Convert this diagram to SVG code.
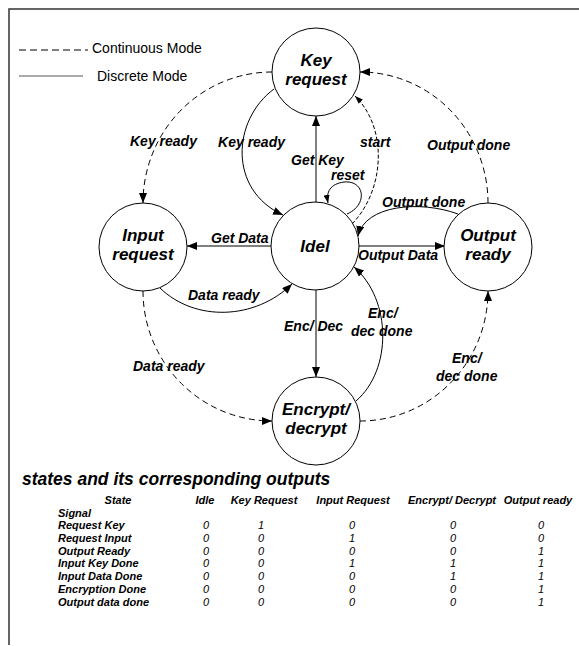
<svg xmlns="http://www.w3.org/2000/svg" width="579" height="646" viewBox="0 0 579 646">
  <style>
    .frame { stroke: #333; stroke-width: 1.5; fill: none; }
    .node circle { fill: #fff; stroke: #000; stroke-width: 1; }
    .node text { font-family: "Liberation Sans", Arial, sans-serif; font-size: 17px; font-weight: bold; font-style: italic; text-anchor: middle; fill: #000; }
    .edge { fill: none; stroke: #000; stroke-width: 1; }
    .cont { stroke-dasharray: 6 4; }
    .fine { stroke-dasharray: 4 2; }
    .lbl { font-family: "Liberation Sans", Arial, sans-serif; font-size: 14px; font-weight: bold; font-style: italic; fill: #000; }
    .legend { font-family: "Liberation Sans", Arial, sans-serif; font-size: 14px; fill: #000; }
    .title { font-family: "Liberation Sans", Arial, sans-serif; font-size: 17.5px; font-weight: bold; font-style: italic; fill: #000; }
    .th { font-family: "Liberation Sans", Arial, sans-serif; font-size: 11px; font-weight: bold; font-style: italic; fill: #000; }
    .td { font-family: "Liberation Sans", Arial, sans-serif; font-size: 11px; font-style: italic; fill: #000; text-anchor: middle; }
  </style>
  <defs>
    <marker id="arrow" markerWidth="10" markerHeight="8" refX="10" refY="4" orient="auto" markerUnits="userSpaceOnUse">
      <path d="M0,0 L10,4 L0,8 z" fill="#000"/>
    </marker>
    <marker id="arrowSmall" markerWidth="8" markerHeight="6" refX="8" refY="3" orient="auto" markerUnits="userSpaceOnUse">
      <path d="M0,0 L8,3 L0,6 z" fill="#000"/>
    </marker>
  </defs>

  <!-- frame -->
  <path class="frame" d="M9,645 L9,9 L579,9"/>

  <!-- legend -->
  <g id="legend">
    <line x1="19" y1="50" x2="88" y2="50" stroke="#000" stroke-width="1" stroke-dasharray="7 4"/>
    <text class="legend" x="92" y="53">Continuous Mode</text>
    <line x1="19" y1="76" x2="83" y2="76" stroke="#555" stroke-width="1.2"/>
    <text class="legend" x="97" y="81">Discrete Mode</text>
  </g>

  <!-- connectors -->
  <g id="connectors">
    <!-- continuous mode ring -->
    <path class="edge cont" d="M272,72 A129,131 0 0 0 143,203" marker-end="url(#arrow)"/>
    <path class="edge cont" d="M143,291 A129,130 0 0 0 272,421" marker-end="url(#arrow)"/>
    <path class="edge cont" d="M360,421 A128,130 0 0 0 488,291" marker-end="url(#arrow)"/>
    <path class="edge cont" d="M488,203 A128,131 0 0 0 360,72" marker-end="url(#arrow)"/>
    <!-- start -->
    <path class="edge fine" d="M352,224 C385,190 388,128 355,96" marker-end="url(#arrowSmall)"/>
    <!-- discrete mode -->
    <path class="edge" d="M274,89 C232,120 228,190 283,215" marker-end="url(#arrow)"/>
    <path class="edge" d="M316,202 L316,116" marker-end="url(#arrow)"/>
    <path class="edge" d="M347,214 C368,205 365,180 344,182 C330,184 326,192 328,203" marker-end="url(#arrowSmall)"/>
    <path class="edge" d="M458,214 C420,200 365,205 358,236" marker-end="url(#arrow)"/>
    <path class="edge" d="M359,246 L445,246" marker-end="url(#arrow)"/>
    <path class="edge" d="M271,246 L187,246" marker-end="url(#arrow)"/>
    <path class="edge" d="M160,288 C195,322 255,320 292,284" marker-end="url(#arrow)"/>
    <path class="edge" d="M316,290 L316,377" marker-end="url(#arrow)"/>
    <path class="edge" d="M356,401 C392,370 392,300 354,267" marker-end="url(#arrow)"/>
  </g>

  <!-- connector labels -->
  <g id="labels">
    <text class="lbl" x="130" y="146">Key ready</text>
    <text class="lbl" x="285" y="147" text-anchor="end">Key ready</text>
    <text class="lbl" x="291" y="165">Get Key</text>
    <text class="lbl" x="360" y="147">start</text>
    <text class="lbl" x="331" y="180">reset</text>
    <text class="lbl" x="427" y="150">Output done</text>
    <text class="lbl" x="382" y="207">Output done</text>
    <text class="lbl" x="211" y="243">Get Data</text>
    <text class="lbl" x="358" y="260">Output Data</text>
    <text class="lbl" x="188" y="300">Data ready</text>
    <text class="lbl" x="284" y="331">Enc/ Dec</text>
    <text class="lbl" x="368" y="318">Enc/</text>
    <text class="lbl" x="351" y="336">dec done</text>
    <text class="lbl" x="133" y="371">Data ready</text>
    <text class="lbl" x="452" y="363">Enc/</text>
    <text class="lbl" x="436" y="381">dec done</text>
  </g>

  <!-- states -->
  <g id="key-request" class="node">
    <circle cx="316" cy="72" r="44"/>
    <text x="316" y="66">Key</text>
    <text x="316" y="85">request</text>
  </g>
  <g id="idel" class="node">
    <circle cx="315" cy="246" r="44"/>
    <text x="315" y="252">Idel</text>
  </g>
  <g id="input-request" class="node">
    <circle cx="143" cy="247" r="44"/>
    <text x="143" y="241">Input</text>
    <text x="143" y="260">request</text>
  </g>
  <g id="output-ready" class="node">
    <circle cx="488" cy="247" r="44"/>
    <text x="488" y="241">Output</text>
    <text x="488" y="260">ready</text>
  </g>
  <g id="encrypt-decrypt" class="node">
    <circle cx="316" cy="421" r="44"/>
    <text x="316" y="415">Encrypt/</text>
    <text x="316" y="434">decrypt</text>
  </g>

  <!-- output table -->
  <g id="output-table">
    <text class="title" x="22" y="485">states and its corresponding outputs</text>
    <g class="th" text-anchor="middle">
      <text x="118" y="504">State</text>
      <text x="205" y="504">Idle</text>
      <text x="264" y="504">Key Request</text>
      <text x="353" y="504">Input Request</text>
      <text x="452" y="504">Encrypt/ Decrypt</text>
      <text x="538" y="504">Output ready</text>
    </g>
    <g class="th">
      <text x="58" y="516.5">Signal</text>
      <text x="58" y="529">Request Key</text>
      <text x="58" y="542">Request Input</text>
      <text x="58" y="554.5">Output Ready</text>
      <text x="58" y="567">Input Key Done</text>
      <text x="58" y="580">Input Data Done</text>
      <text x="58" y="593">Encryption Done</text>
      <text x="58" y="605.5">Output data done</text>
    </g>
    <g class="td">
      <text x="206" y="529">0</text><text x="261" y="529">1</text><text x="352" y="529">0</text><text x="453" y="529">0</text><text x="541" y="529">0</text>
      <text x="206" y="542">0</text><text x="261" y="542">0</text><text x="352" y="542">1</text><text x="453" y="542">0</text><text x="541" y="542">0</text>
      <text x="206" y="554.5">0</text><text x="261" y="554.5">0</text><text x="352" y="554.5">0</text><text x="453" y="554.5">0</text><text x="541" y="554.5">1</text>
      <text x="206" y="567">0</text><text x="261" y="567">0</text><text x="352" y="567">1</text><text x="453" y="567">1</text><text x="541" y="567">1</text>
      <text x="206" y="580">0</text><text x="261" y="580">0</text><text x="352" y="580">0</text><text x="453" y="580">1</text><text x="541" y="580">1</text>
      <text x="206" y="593">0</text><text x="261" y="593">0</text><text x="352" y="593">0</text><text x="453" y="593">0</text><text x="541" y="593">1</text>
      <text x="206" y="605.5">0</text><text x="261" y="605.5">0</text><text x="352" y="605.5">0</text><text x="453" y="605.5">0</text><text x="541" y="605.5">1</text>
    </g>
  </g>
</svg>
